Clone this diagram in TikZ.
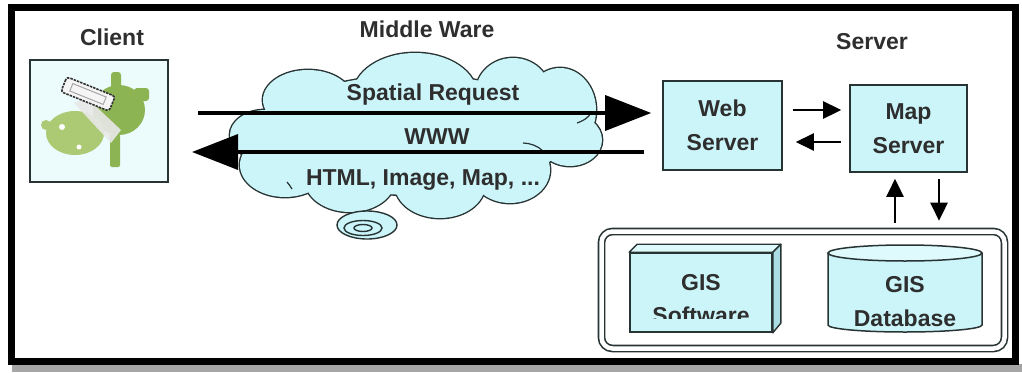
\documentclass[tikz,border=0pt]{standalone}
\usepackage{fontspec}
\newfontfamily\lblfont{Liberation Sans}
\usetikzlibrary{arrows.meta, calc}

\definecolor{edge}{RGB}{40,52,52}
\definecolor{boxfill}{RGB}{204,245,250}
\definecolor{boxtop}{RGB}{222,250,252}
\definecolor{boxside}{RGB}{170,222,228}
\definecolor{clientfill}{RGB}{236,252,252}
\definecolor{icongreen}{RGB}{140,180,82}
\definecolor{iconlight}{RGB}{172,202,116}

% lobes of the middleware cloud: {x/y/x radius/y radius}
\newcommand\cloudlobes{308/100/45/30, 415/95/62/42, 513/92/37/34, 560/110/36/42,
  570/140/32/26, 510/170/40/33, 440/185/45/33, 350/180/45/32, 285/165/45/32,
  265/135/35/25, 415/135/150/60}

\begin{document}
\begin{tikzpicture}[x=1pt, y=-1pt,
  lbl/.style={font=\lblfont\bfseries\fontsize{23}{34}\selectfont, align=center, inner sep=0pt, text=black!82},
  box/.style={draw=edge, line width=1.6pt, fill=boxfill},
  bigarrow/.style={line width=3.6pt, -{Triangle[length=46pt, width=35pt]}},
  smallarrow/.style={line width=2.6pt, -{Triangle[length=18pt, width=17pt]}},
  puffline/.style={draw=edge, line width=1.2pt}]

% page and frame
\useasboundingbox (0,0) rectangle (1022,372);
\fill[white] (0,0) rectangle (1022,372);
\fill[black!35] (12,364) rectangle (1022,372);
\draw[line width=7pt] (11,7) rectangle (1015,361);

% titles
\node[lbl] (clientlbl) at (112,37) {Client};
\node[lbl] (midlbl) at (427,29) {Middle Ware};
\node[lbl] (serverlbl) at (872,42) {Server};

% client box with its icon
\node[draw=edge, line width=1.6pt, fill=clientfill, minimum width=138pt, minimum height=122pt, inner sep=0pt] (client) at (99,121) {};
\fill[icongreen, rounded corners=3pt] (111,72) rectangle (121,92);
\fill[icongreen, rounded corners=3pt] (134,88) rectangle (149,101);
\fill[icongreen, rounded corners=2pt] (110,134) rectangle (120,167);
\fill[icongreen] (119,110) ellipse [x radius=26, y radius=25];
\fill[iconlight] (75,133) ellipse [x radius=29, y radius=22];
\fill[iconlight] (46,125) circle [radius=5];
\fill[white!82!gray, opacity=0.9] (74,103) -- (86,97) -- (121,130) -- (111,143) -- cycle;
\fill[white] (62,127) circle [radius=3];
\fill[white] (79,147) circle [radius=2.5];
\draw[line width=1.6pt, dash pattern=on 2.5pt off 1pt, draw=black!80, fill=white!92!gray,
      rounded corners=3pt, rotate around={-22:(88,94)}] (62,86) rectangle (114,102);
\draw[line width=1pt, draw=gray!70, rotate around={-22:(88,94)}] (70,90) rectangle (106,98);

% middleware cloud: outline of every lobe, then the fills on top leave only the union's edge
\foreach \cx/\cy/\rx/\ry in \cloudlobes
  \draw[draw=edge, line width=2.8pt] (\cx,\cy) ellipse [x radius=\rx, y radius=\ry];
\foreach \cx/\cy/\rx/\ry in \cloudlobes
  \fill[boxfill] (\cx,\cy) ellipse [x radius=\rx, y radius=\ry];
\coordinate (cloud) at (416,135);
\draw[puffline] (577,123) .. controls (583,121) and (588,118) .. (591,113);
\draw[puffline] (523,143) .. controls (530,143) and (538,146) .. (543,151);
\draw[puffline] (287,182) .. controls (289,184) and (290,186) .. (292,189);
\draw[draw=edge, line width=1.4pt, fill=boxfill] (367,225) ellipse [x radius=30, y radius=14];
\draw[draw=edge, line width=1.4pt] (363,228) ellipse [x radius=19, y radius=7.5];
\draw[draw=edge, line width=1.4pt] (363,228) ellipse [x radius=9, y radius=3.5];

\node[lbl] (req) at (433,95) {Spatial Request};
\node[lbl] (www) at (437,137) {WWW};
\node[lbl] (resp) at (423,180) {HTML, Image, Map, ...};

% servers
\node[box, lbl, minimum width=119pt, minimum height=89pt] (web) at (722.5,125.5) {Web\\Server};
\node[box, lbl, minimum width=117pt, minimum height=87pt] (map) at (908.5,128.5) {Map\\Server};

% request / response across the web
\coordinate (reqstart) at (198,113);
\coordinate (respend) at (192,152);
\draw[bigarrow, shorten >=11pt] (reqstart) -- (reqstart -| web.west);
\draw[bigarrow, shorten <=18pt] (respend -| web.west) -- (respend);

% web server <-> map server
\draw[smallarrow, shorten <=10pt, shorten >=8pt] (web.east |- 0,110) -- (map.west |- 0,110);
\draw[smallarrow, shorten <=8pt, shorten >=13pt] (map.west |- 0,142) -- (web.east |- 0,142);

% data store
\node[draw=edge, line width=1.6pt, double=white, double distance=4.5pt, rounded corners=11pt,
      minimum width=403pt, minimum height=117pt, inner sep=0pt] (store) at (803,290) {};
\draw[smallarrow, shorten <=8pt, shorten >=6pt] (store.north -| 895,0) -- (map.south -| 895,0);
\draw[smallarrow, shorten <=6pt, shorten >=10pt] (map.south -| 939,0) -- (store.north -| 939,0);

% GIS software as a block
\node[box, minimum width=142pt, minimum height=79pt, inner sep=0pt] (soft) at (701,292.5) {};
\draw[draw=edge, line width=1.4pt, fill=boxtop, line join=round]
  (soft.north west) -- ++(8,-8) -- ($(soft.north east)+(8,-8)$) -- (soft.north east) -- cycle;
\draw[draw=edge, line width=1.4pt, fill=boxside, line join=round]
  (soft.north east) -- ++(8,-8) -- ++(0,79) -- (soft.south east) -- cycle;
\node[lbl] (softa) at (701,283) {GIS};
\begin{scope}
  \clip (630,300) rectangle (772,318);
  \node[lbl] (softb) at (701,315) {Software};
\end{scope}

% GIS database as a cylinder
\node[inner sep=0pt, minimum width=154pt, minimum height=86pt] (db) at (905,289) {};
\draw[draw=edge, line width=1.5pt, fill=boxfill]
  (828,253) -- (828,325) arc [start angle=180, end angle=360, x radius=77, y radius=-7] -- (982,253);
\draw[draw=edge, line width=1.5pt, fill=boxtop] (905,253) ellipse [x radius=77, y radius=8];
\node[lbl] (dba) at (905,285) {GIS};
\node[lbl] (dbb) at (905,318) {Database};

\end{tikzpicture}
\end{document}
